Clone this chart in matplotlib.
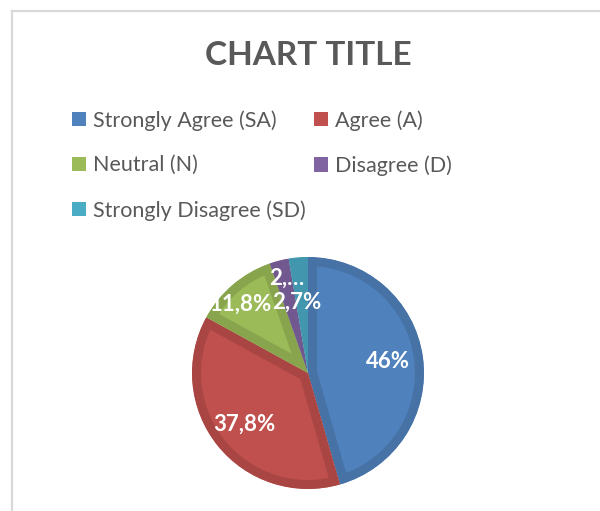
import numpy as np
import matplotlib.pyplot as plt
from matplotlib.patches import Patch
from matplotlib.lines import Line2D
import matplotlib.colors as mcolors

plt.rcParams['font.family'] = ['Lato', 'DejaVu Sans']

# data
categories = ["Strongly Agree (SA)", "Agree (A)", "Neutral (N)",
              "Disagree (D)", "Strongly Disagree (SD)"]
percent = [46, 37.8, 11.8, 2.7, 2.7]
colors = ["#4F81BD", "#C0504D", "#9BBB59", "#8064A2", "#4BACC6"]

labels = [f"{p:g}%".replace(".", ",") for p in percent]
labels[3] = labels[3][:2] + "…"   # excel truncated this one


def darker(c, f=0.88):
    r, g, b = mcolors.to_rgb(c)
    return (r * f, g * f, b * f)


fig = plt.figure(figsize=(6, 5.11), dpi=100)

# chart area border (only top and left visible)
grey = "#D9D9D9"
fig.add_artist(Line2D([12 / 600, 1], [1 - 11 / 511] * 2, color=grey, lw=1.6))
fig.add_artist(Line2D([12 / 600] * 2, [0, 1 - 11 / 511], color=grey, lw=1.6))

fig.text(308 / 600, 1 - 55 / 511, "CHART TITLE", ha="center", va="center",
         fontsize=24, fontweight="bold", color="#595959")

# pie
ax = fig.add_axes([192 / 600, 22 / 511, 232 / 600, 232 / 511])
wedges, _ = ax.pie(percent, colors=colors, startangle=90, counterclock=False,
                   radius=1, wedgeprops=dict(linewidth=13))
for w, c in zip(wedges, colors):
    # thick darker border drawn only on the inside of each slice
    w.set_edgecolor(darker(c))
    w.set_clip_on(True)
    w.set_clip_path(w)
ax.set_xlim(-1, 1)
ax.set_ylim(-1, 1)
ax.set_aspect("equal")
ax.axis("off")

# label placement (best-fit like excel)
label_pos = [None, None, (-0.58, 0.59), (-0.18, 0.82), (-0.10, 0.61)]
for w, lab, pos in zip(wedges, labels, label_pos):
    if pos is None:
        ang = np.deg2rad((w.theta1 + w.theta2) / 2)
        pos = (0.70 * np.cos(ang), 0.70 * np.sin(ang))
    ax.text(pos[0], pos[1], lab, ha="center", va="center", color="white",
            fontsize=16, fontweight="bold", clip_on=False)

# legend, row-major order like excel
handles = [Patch(facecolor=c, edgecolor="none") for c in colors]
order = [0, 2, 4, 1, 3]
fig.legend([handles[i] for i in order], [categories[i] for i in order],
           loc="upper left", bbox_to_anchor=(72 / 600, 1 - 110 / 511),
           ncol=2, frameon=False, fontsize=15.5, labelcolor="#595959",
           handlelength=0.66, handleheight=0.66, handletextpad=0.3,
           columnspacing=0.4, labelspacing=1.15, borderpad=0,
           borderaxespad=0)

fig.savefig("out.png", dpi=100)
